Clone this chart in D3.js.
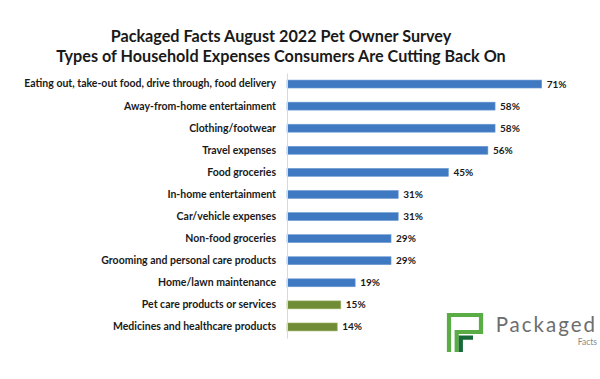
<!DOCTYPE html>
<html>
<head>
<meta charset="utf-8">
<script src="https://d3js.org/d3.v7.min.js"></script>
<style>
  body { margin: 0; background: #fff; }
  text { font-family: Lato, "Open Sans", sans-serif; }
</style>
</head>
<body>
<div id="my_chart"></div>
<script>
var width = 600, height = 379;

var categories = [
  "Eating out, take-out food, drive through, food delivery",
  "Away-from-home entertainment",
  "Clothing/footwear",
  "Travel expenses",
  "Food groceries",
  "In-home entertainment",
  "Car/vehicle expenses",
  "Non-food groceries",
  "Grooming and personal care products",
  "Home/lawn maintenance",
  "Pet care products or services",
  "Medicines and healthcare products"
];
var values = [71, 58, 58, 56, 45, 31, 31, 29, 29, 19, 15, 14];
// pet-related items are drawn in green
var petRelated = [false, false, false, false, false, false, false, false, false, false, true, true];
var titleLines = [
  "Packaged Facts August 2022 Pet Owner Survey",
  "Types of Household Expenses Consumers Are Cutting Back On"
];

var data = categories.map(function(c, i) {
  return {name: c, value: values[i], pet: petRelated[i]};
});

var svg = d3.select("#my_chart").append("svg")
    .attr("width", width)
    .attr("height", height);

// title
svg.selectAll("text.title")
    .data(titleLines)
    .enter()
    .append("text")
    .attr("class", "title")
    .attr("x", 281)
    .attr("y", function(d, i) { return 42 + i * 20; })
    .attr("text-anchor", "middle")
    .attr("font-size", 16.2)
    .attr("font-weight", "bold")
    .attr("fill", "#1a1a1a")
    .text(function(d) { return d; });

// scales
var xScale = d3.scaleLinear()
    .domain([0, 71])
    .range([287, 541.7]);
var yScale = d3.scaleBand()
    .domain(categories)
    .range([73, 338])
    .paddingInner(0.64)
    .paddingOuter(0.32);

// bars
svg.selectAll("rect.bar")
    .data(data)
    .enter()
    .append("rect")
    .attr("class", "bar")
    .attr("x", xScale(0))
    .attr("y", function(d) { return yScale(d.name); })
    .attr("width", function(d) { return xScale(d.value) - xScale(0); })
    .attr("height", yScale.bandwidth())
    .attr("fill", function(d) { return d.pet ? "#718c36" : "#3f79c2"; })
    .attr("stroke", function(d) { return d.pet ? "#9cb36a" : "#6f9bd3"; })
    .attr("stroke-width", 0.6);

// axis line and category labels
var yAxis = d3.axisLeft(yScale).tickSize(0).tickPadding(11);
var gAxis = svg.append("g")
    .attr("transform", "translate(" + xScale(0) + ",0)")
    .call(yAxis);
gAxis.select(".domain").attr("stroke", "#d9d9d9").attr("stroke-width", 1);
gAxis.selectAll("text")
    .attr("font-family", "Lato, sans-serif")
    .attr("font-size", 10.5)
    .attr("font-weight", "bold")
    .attr("fill", "#1a1a1a");

// value labels
svg.selectAll("text.val")
    .data(data)
    .enter()
    .append("text")
    .attr("class", "val")
    .attr("x", function(d) { return xScale(d.value) + 5; })
    .attr("y", function(d) { return yScale(d.name) + yScale.bandwidth() / 2; })
    .attr("dy", "0.35em")
    .attr("font-size", 10)
    .attr("font-weight", "bold")
    .attr("fill", "#1a1a1a")
    .text(function(d) { return d.value + "%"; });

// logo
var logo = svg.append("g").attr("transform", "translate(447,313)");
logo.append("path")
    .attr("d", "M2,39 V2 H34 V19 H9.7 V39")
    .attr("fill", "none")
    .attr("stroke", "#5aad45")
    .attr("stroke-width", 4.2);
logo.append("path")
    .attr("d", "M13.8,39 V24.7 H26")
    .attr("fill", "none")
    .attr("stroke", "#17693a")
    .attr("stroke-width", 4.2);
logo.append("text")
    .attr("x", 150)
    .attr("y", 19)
    .attr("text-anchor", "end")
    .attr("font-family", "'Open Sans', sans-serif")
    .attr("font-size", 20.5)
    .attr("letter-spacing", 2)
    .attr("fill", "#6d6d6d")
    .text("Packaged");
logo.append("text")
    .attr("x", 150)
    .attr("y", 32)
    .attr("text-anchor", "end")
    .attr("font-family", "'Open Sans', sans-serif")
    .attr("font-size", 8.5)
    .attr("fill", "#8a8a8a")
    .text("Facts");
</script>
</body>
</html>
